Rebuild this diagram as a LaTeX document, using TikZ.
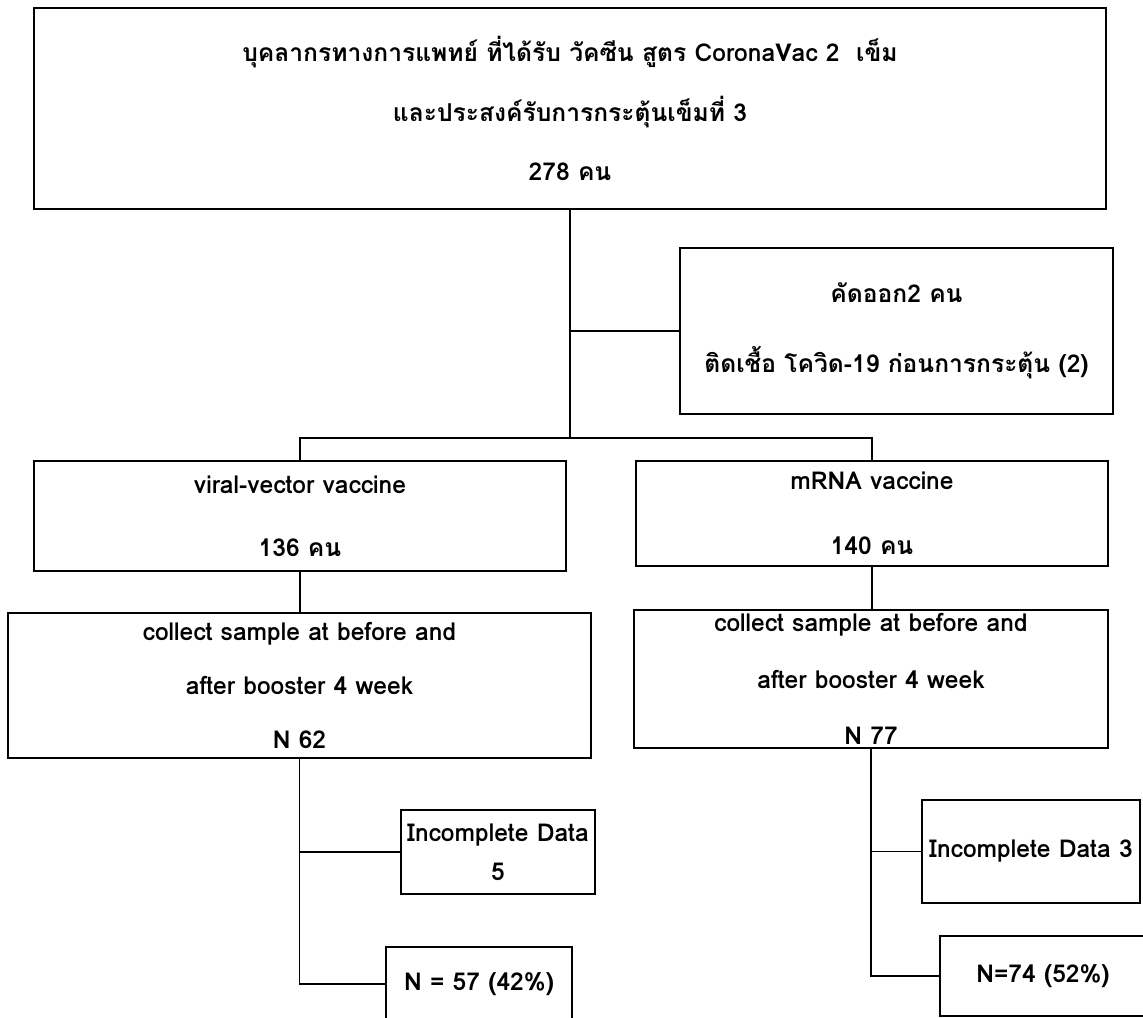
\documentclass[tikz,border=0pt]{standalone}
\usepackage{fontspec}
\setmainfont[Script=Thai]{Loma}
\usetikzlibrary{positioning,calc}

\begin{document}
\begin{tikzpicture}
  [x=0.2mm,y=-0.2mm,
   stage/.style={rectangle,draw=black,line width=1.2pt,align=center,
                 inner sep=1pt},
   gap/.style={font=\fontsize{14}{#1}\selectfont\bfseries},
   wire/.style={draw=black,line width=1.1pt}]
  \useasboundingbox (0,0) rectangle (1143,1018);
  \clip (0,0) rectangle (1143,1018);

  \node (top) at (570,108.5) [stage,gap=34pt,minimum width=21.44cm,minimum height=4.02cm]
    {บุคลากรทางการแพทย์ ที่ได้รับ วัคซีน สูตร CoronaVac 2\ \ เข็ม\\และประสงค์รับการกระตุ้นเข็มที่ 3\\278 คน};
  \node (excl) at (896.5,331) [stage,gap=40pt,minimum width=8.66cm,minimum height=3.32cm]
    {คัดออก2 คน\\ติดเชื้อ โควิด-19 ก่อนการกระตุ้น (2)};
  \node (viral) at (300,516) [stage,gap=36pt,minimum width=10.64cm,minimum height=2.2cm]
    {viral-vector vaccine\\136 คน};
  \node (mrna) at (872,513.5) [stage,gap=37pt,minimum width=9.44cm,minimum height=2.1cm]
    {mRNA vaccine\\140 คน};
  \node (collL) at (299.5,685.5) [stage,gap=31pt,minimum width=11.66cm,minimum height=2.9cm]
    {collect sample at before and\\after booster 4 week\\N 62};
  \node (collR) at (871,679) [stage,gap=32pt,minimum width=9.48cm,minimum height=2.76cm]
    {collect sample at before and\\after booster 4 week\\N 77};
  \node (incL) at (498,852) [stage,gap=22pt,minimum width=3.88cm,minimum height=1.68cm]
    {Incomplete Data\\5};
  \node (incR) at (1031,851.5) [stage,gap=22pt,minimum width=4.36cm,minimum height=2.06cm]
    {Incomplete Data 3};
  \node (nL) at (479,984) [stage,gap=22pt,minimum width=3.72cm,minimum height=1.48cm]
    {N = 57 (42\%)};
  \node (nR) at (1043,976) [stage,gap=22pt,minimum width=4.12cm,minimum height=1.6cm]
    {N=74 (52\%)};

  % trunk and split
  \coordinate (split) at (570,438);
  \draw [wire] (top.south) -- (split);
  \draw [wire] (top.south |- excl.west) -- (excl.west);
  \draw [wire] (viral.north) |- (split) -| (mrna.north);

  % left arm
  \draw [wire] (viral.south) -- (viral.south |- collL.north);
  \draw [wire] (collL.south) |- (nL.west);
  \draw [wire] (collL.south |- incL.west) -- (incL.west);

  % right arm
  \draw [wire] (mrna.south) -- (mrna.south |- collR.north);
  \draw [wire] (collR.south) |- (nR.west);
  \draw [wire] (collR.south |- incR.west) -- (incR.west);
\end{tikzpicture}
\end{document}
